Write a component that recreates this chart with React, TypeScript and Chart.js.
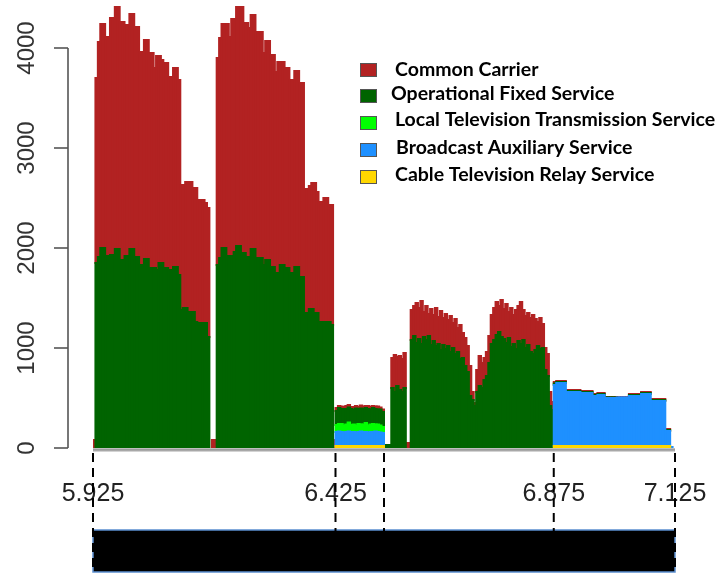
import { useEffect, useRef } from "react";
import { Chart, registerables } from "chart.js";

Chart.register(...registerables);

// ---- data: counts per 5 MHz bin, 5.925 – 7.125 GHz (240 bins) ----
const binStartGHz = 5.925;
const binWidthGHz = 0.005;

const Z20 = [0, 0, 0, 0, 0, 0, 0, 0, 0, 0, 0, 0, 0, 0, 0, 0, 0, 0, 0, 0];

const cableTelevisionRelay = [
  ...Z20, ...Z20, ...Z20, ...Z20, ...Z20,
  20, 20, 20, 20, 20, 20, 20, 20, 20, 20, 20, 20, 20, 20, 20, 20, 20, 20, 20, 20,
  ...Z20, ...Z20, ...Z20,
  0, 0, 0, 0, 0, 0, 0, 0, 0, 0, 20, 20, 20, 20, 20, 20, 20, 20, 20, 20,
  20, 20, 20, 20, 20, 20, 20, 20, 20, 20, 20, 20, 20, 20, 20, 20, 20, 20, 20, 20,
  20, 20, 20, 20, 20, 20, 20, 20, 20, 20, 20, 20, 20, 20, 20, 20, 20, 20, 0, 0,
];

const broadcastAuxiliary = [
  ...Z20, ...Z20, ...Z20, ...Z20, ...Z20,
  140, 145, 140, 135, 140, 145, 140, 140, 135, 140, 145, 140, 140, 135, 140, 140, 145, 140, 135, 130,
  ...Z20, ...Z20, ...Z20,
  0, 0, 0, 0, 0, 0, 0, 0, 0, 0, 610, 630, 630, 630, 630, 540, 540, 540, 540, 540,
  540, 530, 530, 530, 530, 530, 500, 500, 510, 510, 510, 480, 480, 480, 480, 480, 485, 485, 485, 485,
  485, 500, 500, 500, 500, 500, 520, 520, 520, 520, 450, 450, 450, 450, 450, 450, 150, 150, 10, 0,
];

const localTelevisionTransmission = [
  ...Z20, ...Z20, ...Z20, ...Z20, ...Z20,
  70, 75, 80, 70, 75, 90, 70, 75, 70, 80, 70, 75, 90, 70, 75, 80, 70, 75, 70, 60,
  ...Z20, ...Z20, ...Z20, ...Z20, ...Z20, ...Z20,
];

const operationalFixed = [
  0, 1850, 1910, 2000, 2000, 1920, 1920, 1930, 1930, 1990, 1990, 1880, 1880, 1920, 1920, 1990, 1990, 1910, 1910, 1830,
  1830, 1890, 1890, 1800, 1800, 1800, 1780, 1850, 1850, 1800, 1800, 1780, 1780, 1810, 1810, 1730, 1380, 1400, 1400, 1360,
  1360, 1360, 1260, 1250, 1250, 1250, 1250, 1110, 0, 0, 0, 1830, 1900, 2000, 2000, 1920, 1920, 1920, 1960, 2020,
  2020, 1950, 1950, 1910, 1910, 1990, 1990, 1900, 1900, 1900, 1830, 1880, 1880, 1810, 1810, 1750, 1750, 1830, 1830, 1800,
  1800, 1750, 1750, 1810, 1810, 1710, 1710, 1350, 1350, 1390, 1390, 1350, 1350, 1260, 1260, 1260, 1260, 1260, 1230, 0,
  140, 160, 150, 165, 155, 150, 160, 145, 170, 150, 160, 155, 150, 165, 150, 160, 155, 150, 160, 150,
  30, 30, 30, 600, 560, 620, 580, 560, 600, 0, 0, 1080, 1120, 1050, 1090, 1040, 1110, 1080, 1120, 1030,
  1070, 1020, 1040, 980, 1030, 990, 1020, 960, 1000, 940, 960, 890, 900, 820, 760, 520, 480, 420, 560, 620,
  600, 680, 720, 850, 1040, 1080, 1130, 1160, 1110, 1090, 1050, 1100, 1010, 1040, 990, 1070, 1040, 1080, 1000, 1030,
  960, 940, 980, 1020, 990, 1000, 780, 720, 420, 380, 15, 10, 10, 10, 10, 10, 10, 10, 10, 10,
  10, 10, 10, 10, 10, 10, 10, 10, 10, 10, 10, 5, 5, 5, 5, 5, 0, 0, 0, 0,
  0, 10, 10, 10, 10, 10, 10, 10, 10, 10, 10, 10, 10, 10, 10, 10, 10, 10, 0, 0,
];

const commonCarrier = [
  80, 1850, 2150, 2240, 2240, 2190, 2190, 2370, 2370, 2420, 2420, 2380, 2380, 2310, 2310, 2350, 2350, 2300, 2300, 2130,
  2130, 2190, 2190, 2150, 2150, 2000, 2140, 2070, 2030, 2050, 2050, 1930, 1930, 1990, 1990, 1950, 1250, 1230, 1260, 1300,
  1300, 1240, 1340, 1230, 1230, 1230, 1200, 1290, 0, 80, 80, 2070, 2200, 2240, 2240, 2320, 2190, 2370, 2330, 2390,
  2390, 2460, 2300, 2340, 2290, 2340, 2340, 2260, 2260, 2260, 2120, 2190, 2190, 2120, 2120, 2010, 2110, 2030, 2030, 2000,
  2000, 1930, 1930, 1960, 1960, 1940, 1940, 1240, 1240, 1230, 1260, 1300, 1210, 1200, 1200, 1240, 1240, 1170, 1200, 80,
  30, 20, 25, 20, 30, 25, 20, 30, 25, 20, 30, 25, 20, 30, 25, 20, 25, 30, 20, 25,
  0, 0, 0, 300, 370, 290, 340, 330, 350, 50, 50, 300, 300, 400, 310, 430, 250, 340, 220, 360,
  260, 380, 270, 390, 270, 350, 260, 360, 250, 350, 240, 340, 250, 280, 260, 300, 80, 30, 220, 300,
  250, 220, 240, 270, 290, 320, 330, 260, 370, 300, 390, 260, 390, 290, 390, 350, 420, 300, 320, 320,
  340, 390, 310, 240, 310, 240, 220, 220, 140, 80, 15, 10, 10, 10, 10, 10, 10, 10, 10, 10,
  10, 10, 10, 10, 10, 10, 10, 10, 10, 10, 10, 5, 5, 5, 5, 5, 5, 5, 5, 5,
  5, 10, 10, 10, 10, 10, 10, 10, 10, 10, 10, 10, 10, 10, 10, 10, 10, 10, 0, 0,
];

// stacking order: bottom first
const serviceNames = [
  "Cable Television Relay Service",
  "Broadcast Auxiliary Service",
  "Local Television Transmission Service",
  "Operational Fixed Service",
  "Common Carrier",
];
const serviceColors = ["#FFD700", "#1E90FF", "#00FF00", "#006400", "#B22222"];
const serviceValues = [
  cableTelevisionRelay,
  broadcastAuxiliary,
  localTelevisionTransmission,
  operationalFixed,
  commonCarrier,
];

const yTicks = [0, 1000, 2000, 3000, 4000];
const yTickLabels = ["0", "1000", "2000", "3000", "4000"];
const bandEdgesGHz = [5.925, 6.425, 6.525, 6.875, 7.125];
const xTickValues = [5.925, 6.425, 6.875, 7.125];
const xTickLabels = ["5.925", "6.425", "6.875", "7.125"];

const binLabels = commonCarrier.map((_, i) =>
  (binStartGHz + binWidthGHz * (i + 0.5)).toFixed(4)
);

const overlayPlugin = {
  id: "overlay",
  afterDraw(chart: any) {
    const ctx: CanvasRenderingContext2D = chart.ctx;
    const ys = chart.scales.y;
    const fs = chart.scales.freq;
    const area = chart.chartArea;
    ctx.save();

    // ---- y axis (R style, offset) ----
    const axisX = area.left - 25;
    const y0 = ys.getPixelForValue(yTicks[0]);
    const y1 = ys.getPixelForValue(yTicks[yTicks.length - 1]);
    ctx.strokeStyle = "#555";
    ctx.lineWidth = 1.6;
    ctx.beginPath();
    ctx.moveTo(axisX, y0);
    ctx.lineTo(axisX, y1);
    ctx.stroke();
    ctx.fillStyle = "#333";
    ctx.font = '24px "Liberation Sans", Arial, sans-serif';
    ctx.textAlign = "center";
    ctx.textBaseline = "middle";
    yTicks.forEach((v, i) => {
      const py = ys.getPixelForValue(v);
      ctx.beginPath();
      ctx.moveTo(axisX, py);
      ctx.lineTo(axisX - 14, py);
      ctx.stroke();
      ctx.save();
      ctx.translate(axisX - 42, py);
      ctx.rotate(-Math.PI / 2);
      ctx.fillText(yTickLabels[i], 0, 1);
      ctx.restore();
    });

    // ---- x axis line ----
    const xl = fs.getPixelForValue(bandEdgesGHz[0]);
    const xr = fs.getPixelForValue(bandEdgesGHz[bandEdgesGHz.length - 1]);
    ctx.fillStyle = "#a8a8a8";
    ctx.fillRect(xl, area.bottom + 1, xr - xl, 2.5);
    ctx.fillStyle = "#808080";
    ctx.fillRect(xl, area.bottom + 0.5, xr - xl, 0.8);

    // ---- tick labels ----
    ctx.fillStyle = "#222";
    ctx.font = '25px "Liberation Sans", Arial, sans-serif';
    ctx.textAlign = "center";
    ctx.textBaseline = "middle";
    xTickValues.forEach((v, i) => {
      ctx.fillText(xTickLabels[i], fs.getPixelForValue(v), area.bottom + 46);
    });

    // ---- black band bar ----
    const boxTop = area.bottom + 82;
    const boxBottom = chart.height - 1;
    ctx.fillStyle = "#000";
    ctx.fillRect(xl, boxTop, xr - xl, boxBottom - boxTop);
    ctx.strokeStyle = "#5b8fd0";
    ctx.lineWidth = 1.5;
    ctx.strokeRect(xl, boxTop, xr - xl, boxBottom - boxTop);

    // ---- dashed band edges ----
    ctx.strokeStyle = "#000";
    ctx.lineWidth = 2;
    ctx.setLineDash([9, 6]);
    bandEdgesGHz.forEach((v) => {
      const px = fs.getPixelForValue(v);
      ctx.beginPath();
      ctx.moveTo(px, area.bottom + 5);
      ctx.lineTo(px, chart.height);
      ctx.stroke();
    });
    ctx.setLineDash([]);

    // ---- legend ----
    const rowsSq = [70, 96, 123, 150, 177];
    const rowsTx = [70, 94, 120, 148, 175];
    const txX = [395, 391, 395, 396, 395];
    const sqX = 360;
    ctx.font = 'bold 19.5px Lato, "Open Sans", sans-serif';
    ctx.textAlign = "left";
    ctx.textBaseline = "middle";
    const ds = chart.data.datasets.slice().reverse();
    ds.forEach((d: any, i: number) => {
      ctx.fillStyle = d.backgroundColor;
      ctx.fillRect(sqX, rowsSq[i] - 7, 17, 14);
      ctx.strokeStyle = "#555";
      ctx.lineWidth = 1;
      ctx.strokeRect(sqX + 0.5, rowsSq[i] - 6.5, 16, 13);
      ctx.fillStyle = "#000";
      ctx.fillText(d.label, txX[i], rowsTx[i]);
    });

    ctx.restore();
  },
};

export default function App() {
  const ref = useRef<HTMLCanvasElement>(null);
  useEffect(() => {
    const chart = new Chart(ref.current as HTMLCanvasElement, {
      type: "bar",
      data: {
        labels: binLabels,
        datasets: serviceNames.map((name, i) => ({
          label: name,
          // empty bins are left out so they draw nothing
          data: serviceValues[i].map((v) => (v > 0 ? v : null)),
          backgroundColor: serviceColors[i],
          borderWidth: 0,
          barPercentage: 1,
          categoryPercentage: 1,
          inflateAmount: 1,
        })),
      },
      options: {
        responsive: false,
        animation: false,
        layout: { padding: { left: 93, right: 43, top: 3, bottom: 125 } },
        plugins: { legend: { display: false }, tooltip: { enabled: false } },
        scales: {
          x: { type: "category", stacked: true, display: false },
          y: { type: "linear", stacked: true, min: 0, max: 4450, display: false },
          freq: {
            type: "linear",
            axis: "x",
            position: "bottom",
            offset: false,
            bounds: "data",
            min: bandEdgesGHz[0],
            max: bandEdgesGHz[bandEdgesGHz.length - 1],
            display: false,
          },
        },
      },
      plugins: [overlayPlugin],
    } as any);
    return () => chart.destroy();
  }, []);
  return (
    <div
      style={{
        position: "fixed",
        left: 0,
        top: 0,
        width: 718,
        height: 573,
        background: "#fff",
      }}
    >
      <canvas ref={ref} width={718} height={573} style={{ display: "block" }} />
    </div>
  );
}
